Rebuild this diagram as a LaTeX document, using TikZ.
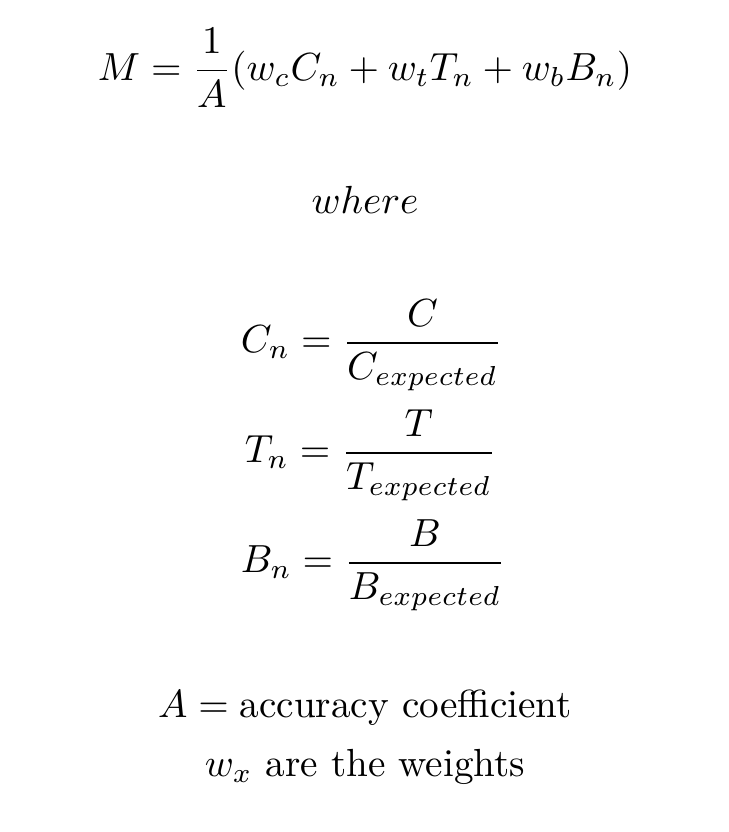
\documentclass[tikz,border=0pt]{standalone}
\usepackage{amsmath}
\begin{document}
\begin{tikzpicture}[x=0.2857pt,y=-0.2857pt,txt/.style={inner sep=0pt,scale=1.12,transform shape}]
\useasboundingbox (0,0) rectangle (728,832);
\node[txt] (main) at (365,68) {$M=\dfrac{1}{A}(w_cC_n+w_tT_n+w_bB_n)$};
\node[txt] (where) at (365,200) {$where$};
\node[txt,anchor=west] (cn) at (240,345) {$C_n=\dfrac{C}{C_{\scriptstyle expected}}$};
\node[txt,anchor=west] (tn) at (244,455) {$T_n=\dfrac{T}{T_{\scriptstyle expected}}$};
\node[txt,anchor=west] (bn) at (240,565) {$B_n=\dfrac{B}{B_{\scriptstyle expected}}$};
\node[txt] (acc) at (365,708) {$A=\text{accuracy coefficient}$};
\node[txt] (wx) at (365,767) {$w_x$ are the weights};
\end{tikzpicture}
\end{document}
